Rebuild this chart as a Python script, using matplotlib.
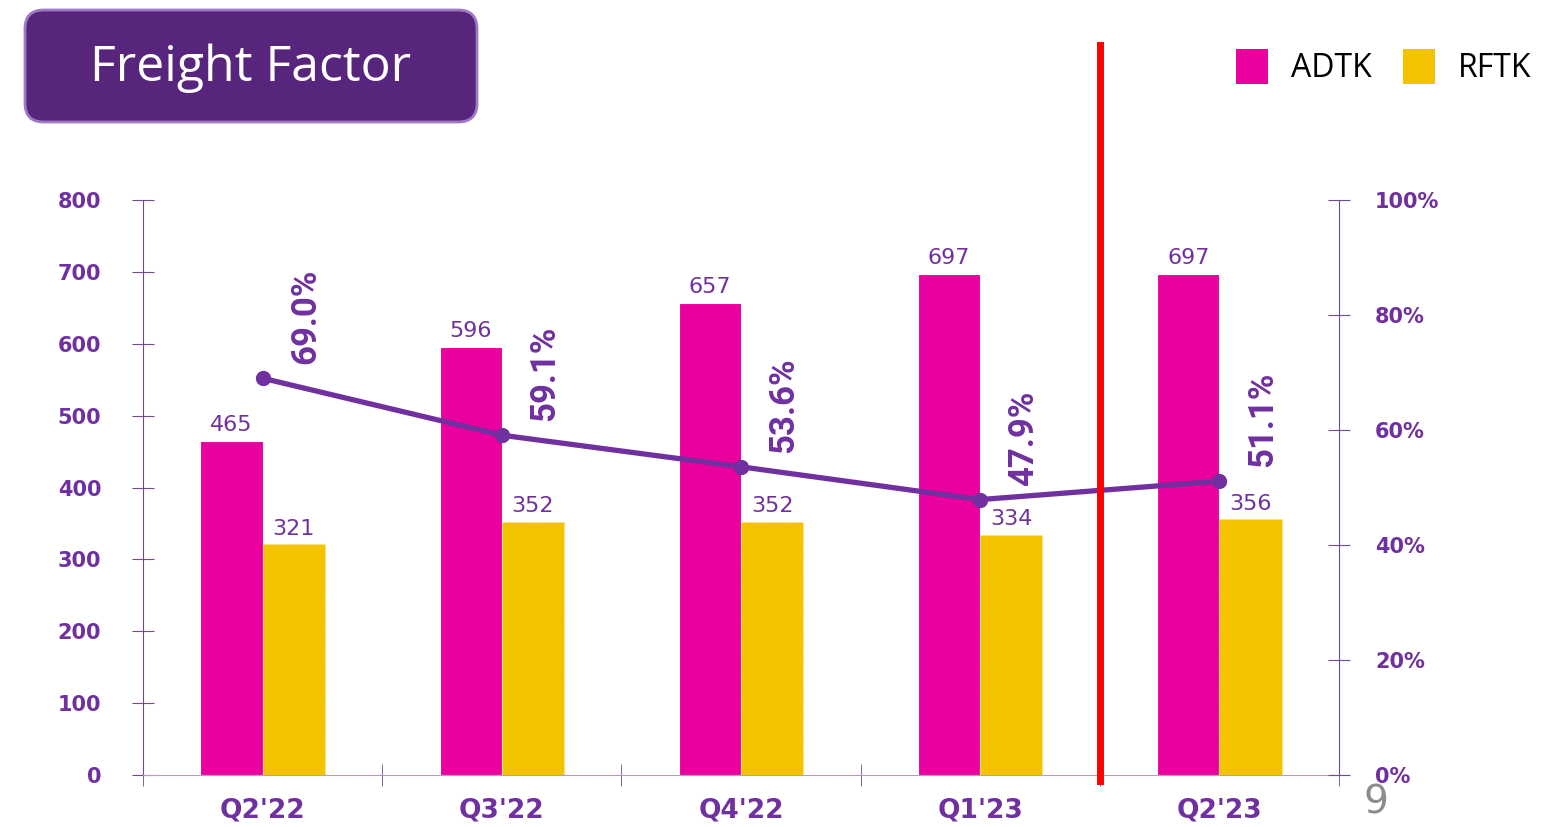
import numpy as np
import matplotlib.pyplot as plt
from matplotlib.patches import FancyBboxPatch, Patch

quarters = ["Q2'22", "Q3'22", "Q4'22", "Q1'23", "Q2'23"]
adtk = [465, 596, 657, 697, 697]
rftk = [321, 352, 352, 334, 356]
freight_factor = [69.0, 59.1, 53.6, 47.9, 51.1]
left_ticks = [0, 100, 200, 300, 400, 500, 600, 700, 800]
right_ticks = [0, 20, 40, 60, 80, 100]

purple = '#7030A0'
magenta = '#EA009E'
yellow = '#F4C300'
axis_col = '#6E4A90'

fig = plt.figure(figsize=(15.57, 8.27), dpi=100)
ax = fig.add_axes([143 / 1557, 1 - 775 / 827, (1339 - 143) / 1557, 575 / 827])
ax2 = ax.twinx()

x = np.arange(len(quarters))
w = 0.26
b1 = ax.bar(x - w / 2, adtk, w, color=magenta, edgecolor='white', linewidth=0.8)
b2 = ax.bar(x + w / 2, rftk, w, color=yellow, edgecolor='#FFE680', linewidth=0.8, linestyle=':')

for rect, v in zip(b1, adtk):
    ax.annotate(str(v), (rect.get_x() + rect.get_width() / 2, v), xytext=(0, 4),
                textcoords='offset points', ha='center', va='bottom',
                fontsize=16, color=purple)
for rect, v in zip(b2, rftk):
    ax.annotate(str(v), (rect.get_x() + rect.get_width() / 2, v), xytext=(0, 4),
                textcoords='offset points', ha='center', va='bottom',
                fontsize=16, color=purple)

ax.set_xlim(-0.5, len(quarters) - 0.5)
ax.set_ylim(0, 800)
ax.set_yticks(left_ticks)
ax.set_yticklabels([str(t) for t in left_ticks], fontsize=15, fontweight='heavy', color=purple)
ax.set_xticks(x)
ax.set_xticklabels(quarters, fontsize=19, fontweight='heavy', color=purple)
ax.set_xticks(np.arange(len(quarters) + 1) - 0.5, minor=True)
ax.tick_params(axis='x', which='major', length=0, pad=16)
ax.tick_params(axis='x', which='minor', length=16, direction='inout', color=axis_col)
ax.tick_params(axis='y', length=16, direction='inout', color=axis_col, pad=22)

for s in ['top', 'right']:
    ax.spines[s].set_visible(False)
for s in ['top', 'left', 'bottom']:
    ax2.spines[s].set_visible(False)
ax.spines['left'].set_color(axis_col)
ax.spines['bottom'].set_color('#B49CC8')
ax2.spines['right'].set_color(axis_col)

ax2.set_ylim(0, 100)
ax2.set_yticks(right_ticks)
ax2.set_yticklabels([f'{t}%' for t in right_ticks], fontsize=15, fontweight='heavy', color=purple)
ax2.tick_params(axis='y', length=16, direction='inout', color=axis_col, pad=18)

ax2.plot(x, freight_factor, color=purple, linewidth=3.8, marker='o', markersize=10, zorder=5)
for xi, v in zip(x, freight_factor):
    ax2.annotate(f'{v:.1f}%', (xi, v), xytext=(31, 10), textcoords='offset points',
                 rotation=90, ha='center', va='bottom', fontsize=25, fontweight='bold',
                 color=purple, family=['Roboto', 'DejaVu Sans'])

# red divider between Q1'23 and Q2'23
ax2.plot([3.5, 3.5], [-1, 127], color='red', linewidth=5, clip_on=False, zorder=6)

# title box
box = FancyBboxPatch((25 / 1557, 1 - 122 / 827), 452 / 1557, 112 / 827,
                     boxstyle='round,pad=0,rounding_size=0.012', mutation_aspect=1557 / 827,
                     transform=fig.transFigure, facecolor='#58257D', edgecolor='#9F7AC4',
                     linewidth=2)
fig.patches.append(box)
fig.text(251 / 1557, 1 - 68 / 827, 'Freight Factor', color='white', fontsize=36,
         ha='center', va='center', family='Open Sans')

handles = [Patch(facecolor=magenta), Patch(facecolor=yellow)]
fig.legend(handles, ['ADTK', 'RFTK'], loc='upper right', bbox_to_anchor=(1560 / 1557, 1 - 20 / 827),
           ncol=2, frameon=False, handlelength=1.0, handleheight=1.3,
           columnspacing=1.0, handletextpad=0.7, prop={'family': 'Open Sans', 'size': 23})

fig.text(1376 / 1557, 1 - 803 / 827, '9', color='#8C8C8C', fontsize=28, ha='center', va='center')

fig.savefig('out.png', dpi=100)
